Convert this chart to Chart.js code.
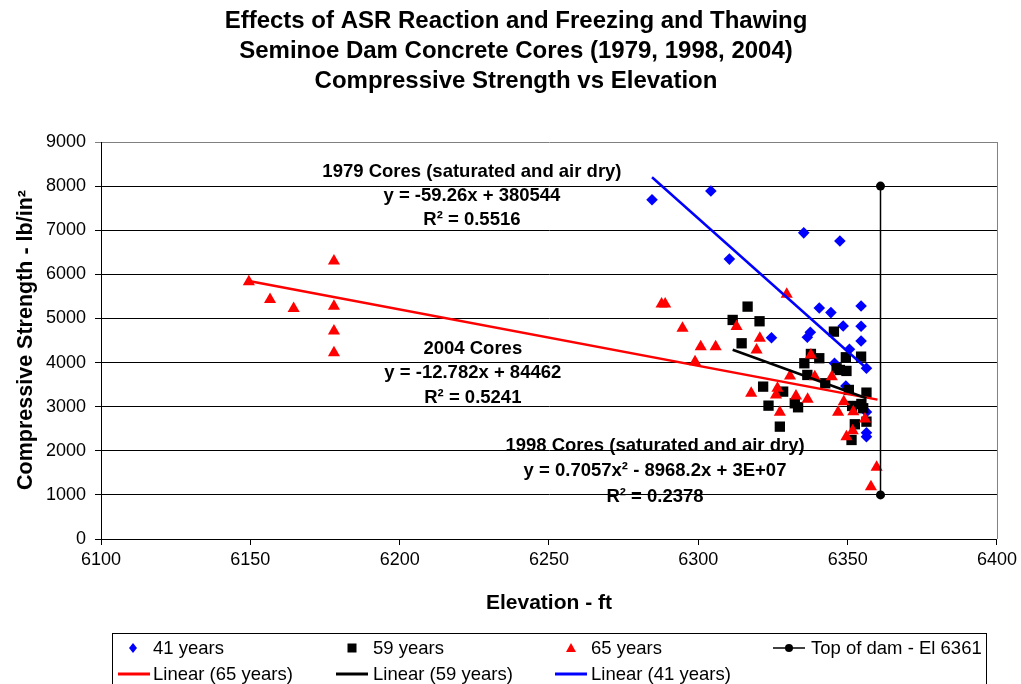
<!DOCTYPE html>
<html lang="en">
<head>
<meta charset="UTF-8">
<title>Seminoe Dam Concrete Cores - Compressive Strength vs Elevation</title>
<script src="https://cdn.jsdelivr.net/npm/chart.js@4.4.1/dist/chart.umd.min.js"></script>
<style>
  html, body { margin: 0; padding: 0; background: #fff; }
  #wrap { width: 1021px; height: 684px; }
</style>
</head>
<body>
<div id="wrap"><canvas id="chart" width="1021" height="684"></canvas></div>
<script>
// ---- data ----
const titleLines = [
  'Effects of ASR Reaction and Freezing and Thawing',
  'Seminoe Dam Concrete Cores (1979, 1998, 2004)',
  'Compressive Strength vs Elevation'
];
const xTitle = 'Elevation - ft';
const yTitle = 'Compressive Strength - lb/in²';

// 41 years (1979 cores)
const x41 = [6284.5, 6304.2, 6310.4, 6324.5, 6335.3, 6336.5, 6337.5, 6340.5, 6344.4, 6345.6, 6347.4,
             6348.5, 6349.4, 6350.6, 6354.5, 6354.5, 6354.5, 6356.3, 6356.3, 6356.3, 6356.3];
const y41 = [7690, 7890, 6345, 4562, 6940, 4575, 4687, 5238, 5132, 3984, 6755,
             4830, 3469, 4302, 5283, 4823, 4490, 3870, 2880, 2410, 2320];

// 59 years (1998 cores)
const x59 = [6316.5, 6311.5, 6320.5, 6314.5, 6345.4, 6337.7, 6340.5, 6335.5, 6349.4, 6354.5, 6346.3,
             6349.6, 6347.4, 6336.5, 6342.5, 6350.4, 6356.3, 6321.7, 6328.4, 6323.5, 6332.3, 6333.4,
             6351.5, 6354.6, 6355.2, 6327.3, 6352.4, 6351.3, 6356.3];
const y59 = [5268, 4966, 4936, 4437, 4701, 4195, 4098, 3984, 4120, 4134, 3870,
             3810, 3832, 3719, 3531, 3379, 3318, 3454, 3341, 3023, 3077, 2986,
             3016, 3061, 2964, 2547, 2601, 2245, 2660];

// 65 years (2004 cores)
const x65 = [6149.5, 6156.6, 6164.5, 6178, 6178, 6178, 6178, 6287.7, 6288.9, 6294.7, 6298.9, 6300.8,
             6305.8, 6312.8, 6317.7, 6319.5, 6320.6, 6326.5, 6326, 6327.3, 6329.6, 6330.7, 6332.7,
             6336.6, 6337.7, 6339, 6344.7, 6346.8, 6348.7, 6349.6, 6351.7, 6351.9, 6355.8, 6357.8, 6359.7];
const y65 = [5830, 5430, 5225, 6304, 5275, 4717, 4225, 5329, 5329, 4778, 4020, 4361,
             4361, 4815, 3303, 4286, 4551, 3417, 3265, 2873, 5549, 3696, 3243,
             3168, 4172, 3681, 3681, 2873, 3113, 2320, 2456, 2887, 2720, 1186, 1626];

// trendline end points
const lin65X = [6149.5, 6360], lin65Y = [5850, 3160];
const lin59X = [6311.5, 6356.3], lin59Y = [4290, 3190];
const lin41X = [6284.5, 6356.3], lin41Y = [8200, 3870];

// top of dam marker
const damX = [6361, 6361], damY = [8000, 1000];

// equation labels (text, centre in data units)
const noteText = ['1979 Cores (saturated and air dry)', 'y = -59.26x + 380544', 'R² = 0.5516',
                  '2004 Cores', 'y = -12.782x + 84462', 'R² = 0.5241',
                  '1998 Cores (saturated and air dry)', 'y = 0.7057x² - 8968.2x + 3E+07', 'R² = 0.2378'];
const noteX = [6224.2, 6224.2, 6224.2, 6224.5, 6224.5, 6224.5, 6285.5, 6285.5, 6285.5];
const noteY = [8322, 7778, 7234, 4308, 3764, 3197, 2109, 1542, 952];

const FONT = '"Liberation Sans", Arial, sans-serif';
const pts = (xs, ys) => xs.map((x, i) => ({x: x, y: ys[i]}));

function line(xs, ys, color) {
  return {
    data: pts(xs, ys), showLine: true, borderColor: color, borderWidth: 2.5,
    pointRadius: 0, pointHoverRadius: 0, fill: false
  };
}

// legend entries drawn by hand
const legendRows = [
  [{kind: 'rectRot', color: '#0000ff', label: '41 years'},
   {kind: 'rect', color: '#000', label: '59 years'},
   {kind: 'triangle', color: '#ff0000', label: '65 years'},
   {kind: 'dam', color: '#000', label: 'Top of dam - El 6361'}],
  [{kind: 'line', color: '#ff0000', label: 'Linear (65 years)'},
   {kind: 'line', color: '#000', label: 'Linear (59 years)'},
   {kind: 'line', color: '#0000ff', label: 'Linear (41 years)'}]
];

function marker(ctx, kind, x, y, color) {
  ctx.save();
  ctx.fillStyle = color;
  ctx.strokeStyle = color;
  ctx.beginPath();
  if (kind === 'rectRot') {
    ctx.moveTo(x, y - 5); ctx.lineTo(x + 4, y); ctx.lineTo(x, y + 5); ctx.lineTo(x - 4, y);
    ctx.closePath(); ctx.fill();
  } else if (kind === 'rect') {
    ctx.fillRect(x - 4.5, y - 4.5, 9, 9);
  } else if (kind === 'triangle') {
    ctx.moveTo(x, y - 5); ctx.lineTo(x + 5, y + 4); ctx.lineTo(x - 5, y + 4);
    ctx.closePath(); ctx.fill();
  } else if (kind === 'dam') {
    ctx.lineWidth = 1.5;
    ctx.moveTo(x - 16, y); ctx.lineTo(x + 16, y); ctx.stroke();
    ctx.beginPath(); ctx.arc(x, y, 4, 0, Math.PI * 2); ctx.fill();
  } else if (kind === 'line') {
    ctx.lineWidth = 3;
    ctx.moveTo(x - 16, y); ctx.lineTo(x + 16, y); ctx.stroke();
  }
  ctx.restore();
}

const decor = {
  id: 'decor',
  beforeDatasetsDraw(chart) {
    const {ctx, chartArea} = chart;
    ctx.save();
    ctx.strokeStyle = '#808080';
    ctx.lineWidth = 1;
    ctx.beginPath();
    ctx.moveTo(chartArea.right + 0.5, chartArea.top);
    ctx.lineTo(chartArea.right + 0.5, chartArea.bottom);
    ctx.stroke();
    ctx.restore();
  },
  afterDraw(chart) {
    const {ctx, chartArea} = chart;
    const sx = chart.scales.x, sy = chart.scales.y;
    ctx.save();
    ctx.fillStyle = '#000';
    ctx.textBaseline = 'middle';
    ctx.textAlign = 'center';

    // title
    ctx.font = 'bold 24px ' + FONT;
    titleLines.forEach((t, i) => ctx.fillText(t, 516, 21 + i * 30));

    // axis titles
    ctx.font = 'bold 21px ' + FONT;
    ctx.fillText(xTitle, (chartArea.left + chartArea.right) / 2, 603);
    ctx.save();
    ctx.translate(26, 340);
    ctx.rotate(-Math.PI / 2);
    ctx.font = 'bold 21.5px ' + FONT;
    ctx.fillText(yTitle, 0, 0);
    ctx.restore();

    // equation notes
    ctx.font = 'bold 18.5px ' + FONT;
    noteText.forEach((t, i) => {
      ctx.fillText(t, sx.getPixelForValue(noteX[i]), sy.getPixelForValue(noteY[i]));
    });

    // legend
    ctx.strokeStyle = '#000';
    ctx.lineWidth = 1;
    ctx.strokeRect(112.5, 633.5, 874, 60);
    ctx.font = '18.5px ' + FONT;
    ctx.textAlign = 'left';
    const colX = [[133, 352, 571, 789], [134, 352, 571]];
    const textX = [[153, 373, 591, 811], [153, 373, 591]];
    const rowY = [648, 674];
    legendRows.forEach((row, r) => {
      row.forEach((it, c) => {
        marker(ctx, it.kind, colX[r][c], rowY[r], it.color);
        ctx.fillStyle = '#000';
        ctx.fillText(it.label, textX[r][c], rowY[r] + 1);
      });
    });
    ctx.restore();
  }
};

const plainTick = v => String(v);

new Chart(document.getElementById('chart'), {
  type: 'scatter',
  data: {
    datasets: [
      {
        label: 'Top of dam - El 6361', data: pts(damX, damY), showLine: true,
        borderColor: '#000', borderWidth: 1.5, backgroundColor: '#000',
        pointStyle: 'circle', pointRadius: 4.5, pointBorderWidth: 0
      },
      Object.assign(line(lin41X, lin41Y, '#0000ff'), {label: 'Linear (41 years)'}),
      Object.assign(line(lin59X, lin59Y, '#000000'), {label: 'Linear (59 years)'}),
      Object.assign(line(lin65X, lin65Y, '#ff0000'), {label: 'Linear (65 years)'}),
      {
        label: '65 years', data: pts(x65, y65), backgroundColor: '#ff0000',
        pointStyle: 'triangle', pointRadius: 7, pointBorderWidth: 0
      },
      {
        label: '59 years', data: pts(x59, y59), backgroundColor: '#000000',
        pointStyle: 'rect', pointRadius: 7.3, pointBorderWidth: 0
      },
      {
        label: '41 years', data: pts(x41, y41), backgroundColor: '#0000ff',
        pointStyle: 'rectRot', pointRadius: 5.8, pointBorderWidth: 0
      }
    ]
  },
  options: {
    responsive: false,
    animation: false,
    devicePixelRatio: 1,
    layout: {padding: {top: 142, right: 24, bottom: 105, left: 0}},
    plugins: {legend: {display: false}, tooltip: {enabled: false}, title: {display: false}},
    scales: {
      x: {
        type: 'linear', min: 6100, max: 6400,
        afterFit: s => { s.height = 40; },
        ticks: {stepSize: 50, color: '#000', font: {family: FONT, size: 18}, padding: 4,
                maxRotation: 0, callback: plainTick},
        grid: {display: true, drawOnChartArea: false, tickLength: 6, color: '#000'},
        border: {color: '#000', width: 1}
      },
      y: {
        min: 0, max: 9000,
        afterFit: s => { s.width = 101; },
        ticks: {stepSize: 1000, color: '#000', font: {family: FONT, size: 18}, padding: 9,
                callback: plainTick},
        grid: {
          tickLength: 6, lineWidth: 1,
          color: c => (c.tick && c.tick.value === 9000) ? '#808080' : '#000'
        },
        border: {color: '#000', width: 1}
      }
    }
  },
  plugins: [decor]
});
</script>
</body>
</html>
